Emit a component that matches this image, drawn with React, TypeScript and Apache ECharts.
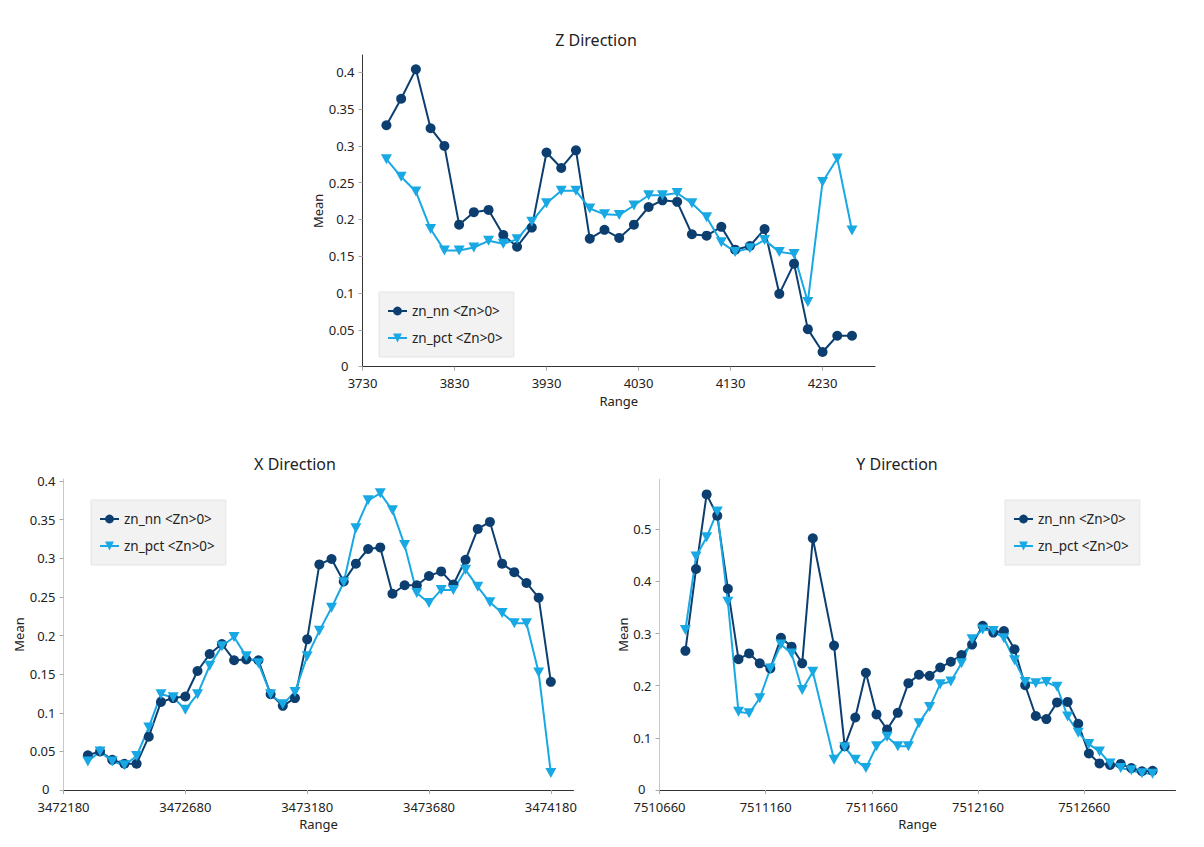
import { useEffect, useRef } from 'react';
import * as echarts from 'echarts';

// Z direction: range bins and means
const zRange = [3756, 3772, 3788, 3804, 3819, 3835, 3851, 3867, 3883, 3898, 3914, 3930, 3946, 3962, 3977, 3993, 4009, 4025, 4041, 4056, 4072, 4088, 4104, 4120, 4135, 4151, 4167, 4183, 4199, 4214, 4230, 4246, 4262];
const zNn = [0.328, 0.364, 0.404, 0.324, 0.3, 0.193, 0.21, 0.213, 0.179, 0.163, 0.189, 0.291, 0.27, 0.294, 0.174, 0.186, 0.175, 0.193, 0.217, 0.226, 0.224, 0.18, 0.178, 0.19, 0.159, 0.164, 0.187, 0.099, 0.14, 0.051, 0.02, 0.042, 0.042];
const zPct = [0.282, 0.258, 0.238, 0.187, 0.158, 0.158, 0.162, 0.171, 0.167, 0.173, 0.197, 0.222, 0.239, 0.239, 0.215, 0.207, 0.206, 0.219, 0.233, 0.233, 0.236, 0.222, 0.203, 0.169, 0.156, 0.161, 0.172, 0.156, 0.153, 0.088, 0.251, 0.283, 0.185];

// X direction
const xRange = [3472280, 3472330, 3472380, 3472430, 3472480, 3472530, 3472580, 3472630, 3472680, 3472730, 3472780, 3472830, 3472880, 3472930, 3472980, 3473030, 3473080, 3473130, 3473180, 3473230, 3473280, 3473330, 3473380, 3473430, 3473480, 3473530, 3473580, 3473630, 3473680, 3473730, 3473780, 3473830, 3473880, 3473930, 3473980, 3474030, 3474080, 3474130, 3474180];
const xNn = [0.045, 0.05, 0.039, 0.034, 0.034, 0.069, 0.114, 0.119, 0.121, 0.154, 0.176, 0.189, 0.168, 0.169, 0.168, 0.124, 0.109, 0.119, 0.195, 0.292, 0.299, 0.27, 0.293, 0.312, 0.314, 0.254, 0.265, 0.265, 0.277, 0.283, 0.266, 0.298, 0.338, 0.347, 0.293, 0.282, 0.268, 0.249, 0.14];
const xPct = [0.037, 0.05, 0.037, 0.032, 0.044, 0.081, 0.124, 0.12, 0.104, 0.124, 0.161, 0.186, 0.198, 0.173, 0.164, 0.124, 0.111, 0.127, 0.173, 0.206, 0.236, 0.269, 0.339, 0.375, 0.384, 0.362, 0.317, 0.255, 0.242, 0.259, 0.259, 0.285, 0.263, 0.243, 0.229, 0.216, 0.216, 0.152, 0.022];

// Y direction (one bin missing after 7511382)
const yRange = [7510782, 7510832, 7510882, 7510932, 7510982, 7511032, 7511082, 7511132, 7511182, 7511232, 7511282, 7511332, 7511382, 7511482, 7511532, 7511582, 7511632, 7511682, 7511732, 7511782, 7511832, 7511882, 7511932, 7511982, 7512032, 7512082, 7512132, 7512182, 7512232, 7512282, 7512332, 7512382, 7512432, 7512482, 7512532, 7512582, 7512632, 7512682, 7512732, 7512782, 7512832, 7512882, 7512932, 7512982];
const yNn = [0.267, 0.424, 0.567, 0.526, 0.386, 0.251, 0.262, 0.243, 0.233, 0.292, 0.275, 0.243, 0.483, 0.277, 0.084, 0.139, 0.225, 0.145, 0.116, 0.148, 0.205, 0.221, 0.219, 0.235, 0.246, 0.259, 0.279, 0.315, 0.302, 0.305, 0.27, 0.201, 0.142, 0.136, 0.168, 0.169, 0.127, 0.07, 0.051, 0.048, 0.05, 0.042, 0.036, 0.037];
const yPct = [0.307, 0.448, 0.485, 0.534, 0.361, 0.15, 0.147, 0.176, 0.233, 0.279, 0.262, 0.192, 0.227, 0.058, 0.082, 0.058, 0.042, 0.084, 0.102, 0.084, 0.084, 0.128, 0.159, 0.203, 0.208, 0.243, 0.289, 0.308, 0.305, 0.291, 0.249, 0.207, 0.205, 0.207, 0.198, 0.141, 0.11, 0.088, 0.074, 0.051, 0.042, 0.038, 0.032, 0.031];

// tick labels
const zXTicks = [3730, 3830, 3930, 4030, 4130, 4230];
const xXTicks = [3472180, 3472680, 3473180, 3473680, 3474180];
const yXTicks = [7510660, 7511160, 7511660, 7512160, 7512660];
const meanTicks40 = [0, 0.05, 0.1, 0.15, 0.2, 0.25, 0.3, 0.35, 0.4];
const meanTicks50 = [0, 0.1, 0.2, 0.3, 0.4, 0.5];

const NN_NAME = 'zn_nn <Zn>0>';
const PCT_NAME = 'zn_pct <Zn>0>';
const NN_COLOR = '#0c3f70';
const PCT_COLOR = '#18a8e3';
const FONT = '"Noto Sans", sans-serif';
const TEXT = '#222';

function xAxis(grid: number, min: number, max: number, ticks: number[]) {
  return {
    type: 'value',
    gridIndex: grid,
    min,
    max,
    name: 'Range',
    nameLocation: 'middle',
    nameGap: 27,
    nameTextStyle: { fontSize: 13, lineHeight: 14, color: TEXT, fontFamily: FONT },
    axisLine: { show: true, lineStyle: { color: '#333', width: 1 } },
    axisTick: { show: true, length: 4, lineStyle: { color: '#aaa' }, customValues: ticks },
    axisLabel: {
      fontSize: 13,
      lineHeight: 13,
      color: TEXT,
      fontFamily: FONT,
      margin: 10,
      customValues: ticks,
      formatter: (v: number) => String(v),
    },
    splitLine: { show: false },
  };
}

function yAxis(grid: number, max: number, ticks: number[], lineColor: string, nameGap: number) {
  return {
    type: 'value',
    gridIndex: grid,
    min: 0,
    max,
    name: 'Mean',
    nameLocation: 'middle',
    nameGap,
    nameTextStyle: { fontSize: 13, color: TEXT, fontFamily: FONT },
    axisLine: { show: true, lineStyle: { color: lineColor, width: 1 } },
    axisTick: { show: true, length: 4, lineStyle: { color: '#aaa' }, customValues: ticks },
    axisLabel: {
      fontSize: 13,
      color: TEXT,
      fontFamily: FONT,
      margin: 8,
      customValues: ticks,
      // the zero label sits a little further left and higher, clear of the range labels
      formatter: (v: number) => (v === 0 ? '{zero|0}' : String(v)),
      rich: {
        zero: { fontSize: 13, lineHeight: 12, color: TEXT, fontFamily: FONT, padding: [0, 6, 2, 0] },
      },
    },
    splitLine: { show: false },
  };
}

function pair(xs: number[], ys: number[]) {
  return xs.map((x, i) => [x, ys[i]]);
}

function series(grid: number, xs: number[], nn: number[], pct: number[]) {
  return [
    {
      name: NN_NAME,
      type: 'line',
      xAxisIndex: grid,
      yAxisIndex: grid,
      data: pair(xs, nn),
      symbol: 'circle',
      symbolSize: 10,
      lineStyle: { color: NN_COLOR, width: 2 },
      itemStyle: { color: NN_COLOR },
    },
    {
      name: PCT_NAME,
      type: 'line',
      xAxisIndex: grid,
      yAxisIndex: grid,
      data: pair(xs, pct),
      symbol: 'triangle',
      symbolRotate: 180,
      symbolSize: [11, 10],
      lineStyle: { color: PCT_COLOR, width: 2 },
      itemStyle: { color: PCT_COLOR },
    },
  ];
}

function legend(left: number, top: number) {
  return {
    orient: 'vertical',
    left,
    top,
    data: [NN_NAME, PCT_NAME],
    backgroundColor: '#f2f2f2',
    borderColor: '#e4e4e4',
    borderWidth: 1,
    padding: [12, 11, 12, 8],
    itemGap: 13,
    itemWidth: 19,
    itemHeight: 11,
    textStyle: { fontSize: 13.5, color: TEXT, fontFamily: FONT },
  };
}

function title(text: string, x: number, y: number) {
  return {
    type: 'text',
    x,
    y,
    style: {
      text,
      fill: TEXT,
      font: `16px ${FONT}`,
      textAlign: 'center',
      textVerticalAlign: 'middle',
    },
  };
}

export default function App() {
  const ref = useRef<HTMLDivElement>(null);

  useEffect(() => {
    if (!ref.current) return;
    const chart = echarts.init(ref.current, null, { renderer: 'svg' });
    chart.setOption({
      animation: false,
      backgroundColor: '#fff',
      textStyle: { fontFamily: FONT },
      grid: [
        { left: 362.5, top: 55, width: 512.5, height: 311.7 },
        { left: 63.5, top: 479, width: 510, height: 311 },
        { left: 659.5, top: 479.3, width: 516, height: 310.7 },
      ],
      xAxis: [
        xAxis(0, 3730, 4287, zXTicks),
        xAxis(1, 3472180, 3474273, xXTicks),
        xAxis(2, 7510660, 7513090, yXTicks),
      ],
      yAxis: [
        yAxis(0, 0.4235, meanTicks40, '#333', 28),
        yAxis(1, 0.4026, meanTicks40, '#c8c8c8', 31),
        yAxis(2, 0.596, meanTicks50, '#c8c8c8', 26),
      ],
      legend: [legend(379, 292), legend(91, 500), legend(1005, 500)],
      graphic: [
        title('Z Direction', 596, 40),
        title('X Direction', 295, 464),
        title('Y Direction', 897, 464),
      ],
      series: [
        ...series(0, zRange, zNn, zPct),
        ...series(1, xRange, xNn, xPct),
        ...series(2, yRange, yNn, yPct),
      ],
    });
    return () => chart.dispose();
  }, []);

  return (
    <div
      ref={ref}
      style={{ position: 'absolute', left: 0, top: 0, width: 1204, height: 847, background: '#fff' }}
    />
  );
}
